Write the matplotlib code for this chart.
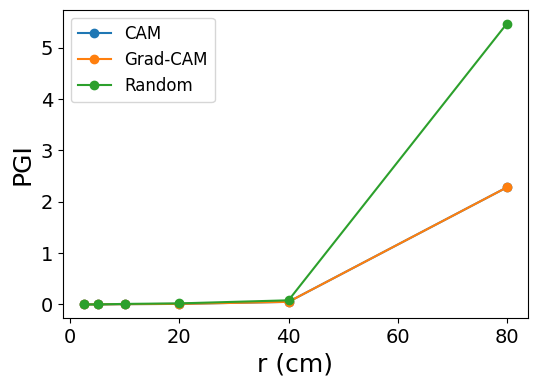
import matplotlib
matplotlib.use("Agg")
import matplotlib.pyplot as plt

# radius values (cm)
r = [2.5, 5, 10, 20, 40, 80]

# PGI per method
pgi_cam = [0.0, 0.0, 0.005, 0.01, 0.05, 2.28]
pgi_gradcam = [0.0, 0.0, 0.005, 0.01, 0.05, 2.28]
pgi_random = [0.0, 0.0, 0.01, 0.02, 0.08, 5.47]

fig, ax = plt.subplots(figsize=(5.36, 3.86), dpi=100)

ax.plot(r, pgi_cam, marker="o", label="CAM")
ax.plot(r, pgi_gradcam, marker="o", label="Grad-CAM")
ax.plot(r, pgi_random, marker="o", label="Random")

ax.set_xlabel("r (cm)", fontsize=18)
ax.set_ylabel("PGI", fontsize=18)
ax.tick_params(labelsize=14)
ax.legend(fontsize=12, loc="upper left")

fig.subplots_adjust(left=0.117, right=0.985, top=0.975, bottom=0.175)
fig.savefig("out.png", dpi=100)
